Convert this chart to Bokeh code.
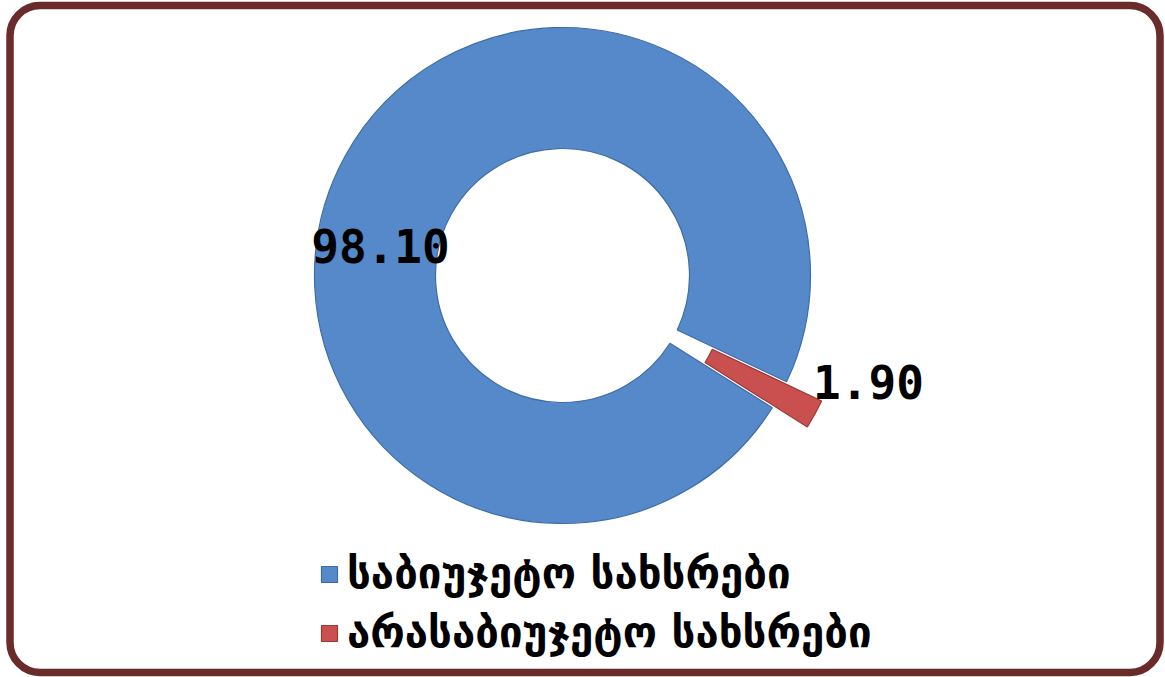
import math
from bokeh.plotting import figure
from bokeh.models import ColumnDataSource, Legend, LegendItem, BoxAnnotation
from bokeh.core.properties import value
from bokeh.embed import file_html
from bokeh.resources import INLINE

# ---- data ----
categories = ["საბიუჯეტო სახსრები", "არასაბიუჯეტო სახსრები"]
shares = [98.10, 1.90]
share_labels = ["98.10", "1.90"]

# ---- style / layout ----
colors = ["#5589CA", "#C9504E"]
edge_colors = ["#3E6DA6", "#9A3A38"]
explode = [0, 40]            # px offset of each slice along its bisector
W, H = 1165, 677
cx, cy = 562, H - 275        # donut centre (pixel-like data units)
r_out, r_in = 248, 127
red_mid_deg = -28.8          # angle of the small slice's bisector
label_pos = [(380, H - 245), (868, H - 381)]

# angles from values (counter-clockwise, small slice centred on red_mid_deg)
total = sum(shares)
spans = [2 * math.pi * v / total for v in shares]
red_start = math.radians(red_mid_deg) - spans[1] / 2
starts = [red_start + spans[1], red_start]
ends = [starts[0] + spans[0], red_start + spans[1]]
mids = [(s + e) / 2 for s, e in zip(starts, ends)]
xs = [cx + d * math.cos(m) for d, m in zip(explode, mids)]
ys = [cy + d * math.sin(m) for d, m in zip(explode, mids)]

src = ColumnDataSource(dict(x=xs, y=ys, start=starts, end=ends,
                            color=colors, edge=edge_colors, label=categories))

p = figure(width=W, height=H, x_range=(0, W), y_range=(0, H),
           output_backend="svg", toolbar_location=None, min_border=0,
           background_fill_color="white", border_fill_color="white",
           outline_line_color=None)
p.axis.visible = False
p.grid.visible = False

r = p.annular_wedge(x="x", y="y", inner_radius=r_in, outer_radius=r_out,
                    start_angle="start", end_angle="end",
                    fill_color="color", line_color="edge", line_width=1.2,
                    source=src)

lsrc = ColumnDataSource(dict(x=[q[0] for q in label_pos], y=[q[1] for q in label_pos],
                             t=share_labels))
p.text(x="x", y="y", text="t", source=lsrc, text_font=value("DejaVu Sans Mono"),
       text_font_style="bold", text_font_size="46px", text_align="center",
       text_baseline="middle", text_color="black")

legend = Legend(items=[LegendItem(label=categories[i], renderers=[r], index=i) for i in range(2)],
                location=(319, 20), orientation="vertical",
                glyph_width=20, glyph_height=20, label_standoff=8,
                label_text_font="DejaVu Sans", label_text_font_style="bold",
                label_text_font_size="42px",
                label_text_color="black", spacing=10, padding=0, margin=0,
                border_line_color=None, background_fill_alpha=0)
p.add_layout(legend, "center")

frame = BoxAnnotation(left=9.5, right=W - 5.5, bottom=5, top=H - 5,
                      fill_alpha=0, line_color="#6A2B2B", line_alpha=1.0,
                      line_width=7.5, border_radius=30)
p.add_layout(frame)

open("out.html", "w").write(file_html(p, INLINE))
